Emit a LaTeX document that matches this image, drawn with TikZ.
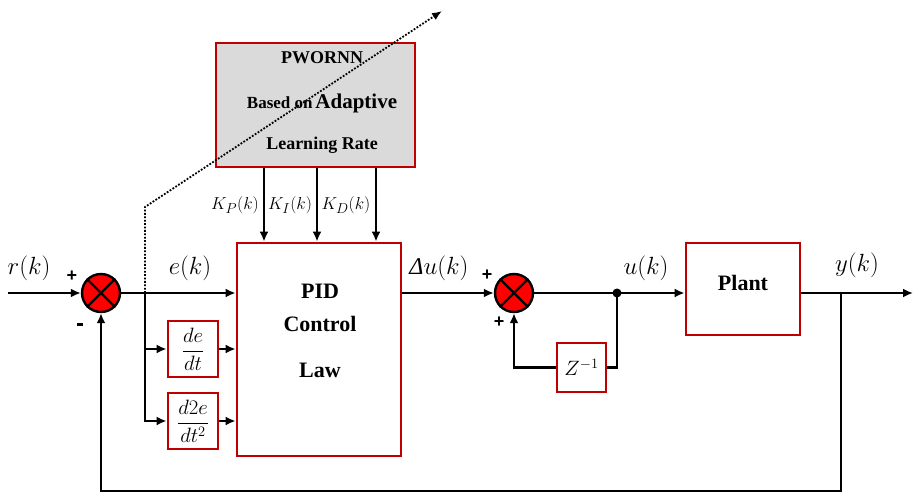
\documentclass[tikz,border=0pt]{standalone}
\usepackage{fontspec}
\setmainfont{Liberation Serif}
\setsansfont{Liberation Sans}
\usetikzlibrary{arrows.meta,calc}
\definecolor{boxred}{RGB}{192,0,0}
\definecolor{boxgray}{RGB}{218,218,218}
\begin{document}
\begin{tikzpicture}[x=1pt,y=-1pt,
  line/.style={line width=2.8pt},
  arr/.style={line width=2.8pt,-{Latex[length=10pt,width=9pt]}},
  rbox/.style={draw=boxred,line width=2.8pt,fill=white,inner sep=0pt},
  sumnode/.style={circle,draw=black,fill=red,line width=2.4pt,minimum size=38pt,inner sep=0pt},
  lbl/.style={font=\fontsize{24}{28}\selectfont,inner sep=0pt},
  klbl/.style={font=\fontsize{19}{22}\selectfont,inner sep=0pt},
  sgn/.style={font=\sffamily\bfseries\fontsize{18}{20}\selectfont,inner sep=0pt},
  bt/.style={font=\bfseries\fontsize{22}{26}\selectfont,inner sep=0pt},
  pt/.style={font=\bfseries\fontsize{18}{22}\selectfont,inner sep=0pt}
]
\useasboundingbox (0,0) rectangle (913,494);

% blocks
\node[rbox,fill=boxgray,minimum width=199pt,minimum height=124pt] (pw) at (315.5,105) {};
\node[rbox,minimum width=164pt,minimum height=213pt] (pid) at (319,349.5) {};
\node[rbox,minimum width=50pt,minimum height=56pt] (de) at (193,349) {};
\node[rbox,minimum width=50pt,minimum height=56pt] (dde) at (193,421) {};
\node[rbox,minimum width=49pt,minimum height=49pt] (z) at (581.5,367.5) {};
\node[rbox,minimum width=114pt,minimum height=92pt] (plant) at (743,289) {};

% block texts
\node[pt] (t1) at (322,58) {PWORNN};
\node[pt] (t2) at (322,103) {\fontsize{17}{20}\selectfont Based on\,\fontsize{21}{24}\selectfont Adaptive};
\node[pt] (t3) at (322,145) {Learning Rate};
\node[bt] (p1) at (320,291) {PID};
\node[bt] (p2) at (320,324) {Control};
\node[bt] (p3) at (320,370) {Law};
\node[bt] (pl) at (743,283) {Plant};
\node[font=\fontsize{20}{23}\selectfont,inner sep=0pt] (det) at (de) {$\displaystyle\frac{de}{dt}$};
\node[font=\fontsize{20}{23}\selectfont,inner sep=0pt] (ddet) at (dde) {$\displaystyle\frac{d2e}{dt^2}$};
\node[font=\fontsize{20}{23}\selectfont,inner sep=0pt] (zt) at (z) {$Z^{-1}$};

% summing junctions
\node[sumnode] (s1) at (101,293) {};
\draw[line width=2.4pt] (s1.45) -- (s1.225) (s1.135) -- (s1.315);
\node[sumnode] (s2) at (514,293) {};
\draw[line width=2.4pt] (s2.45) -- (s2.225) (s2.135) -- (s2.315);

% coordinates
\coordinate (in) at (8,293);
\coordinate (br1) at (145,293);
\coordinate (dtop) at (145,207);
\coordinate (dend) at (442,11);
\coordinate (j) at (617,293);
\coordinate (br2) at (841,293);
\coordinate (out) at (913,293);
\coordinate (fb) at (841,491);
\coordinate (kp) at (264,205);
\coordinate (ki) at (317,205);
\coordinate (kd) at (376,205);

% connectors
\draw[arr] (in) -- (s1.west);
\draw[line] (s1.east) -- (br1);
\draw[arr] (br1) -- (br1 -| pid.west);
\draw[arr] (br1) |- (de.west);
\draw[arr] (br1) |- (dde.west);
\draw[arr] (de.east) -- (de.east -| pid.west);
\draw[arr] (dde.east) -- (dde.east -| pid.west);
\draw[arr] (kp |- pw.south) -- (kp |- pid.north);
\draw[arr] (ki |- pw.south) -- (ki |- pid.north);
\draw[arr] (kd |- pw.south) -- (kd |- pid.north);
\draw[arr] (s2 -| pid.east) -- (s2.west);
\draw[arr] (s2.east) -- (s2 -| plant.west);
\fill (j) circle (4.5pt);
\draw[line] (j) |- (z.east);
\draw[arr] (z.west) -| (s2.south);
\draw[arr] (s2 -| plant.east) -- (out);
\draw[arr] (br2) -- (fb) -| (s1.south);

% dotted adaptation arrow
\draw[line width=1.8pt,dash pattern=on 1.8pt off 1.6pt,-{Latex[length=10pt,width=8pt]}] (br1) -- (dtop) -- (dend);

% labels
\node[lbl] (lr) at (29,268) {$r(k)$};
\node[lbl] (le) at (190,268) {$e(k)$};
\node[lbl] (ldu) at (439,268) {\textit{Δ}$u(k)$};
\node[lbl] (lu) at (646,268) {$u(k)$};
\node[lbl] (ly) at (857,265) {$y(k)$};
\node[klbl] (lkp) at (235,205) {$K_P(k)$};
\node[klbl] (lki) at (290,205) {$K_I(k)$};
\node[klbl] (lkd) at (346,205) {$K_D(k)$};
\node[sgn] (sg1) at (72,276) {+};
\node[sgn] (sg2) at (80,325) {\rule[2pt]{6pt}{3pt}};
\node[sgn] (sg3) at (487,275) {+};
\node[sgn] (sg4) at (499,322) {+};
\end{tikzpicture}
\end{document}
